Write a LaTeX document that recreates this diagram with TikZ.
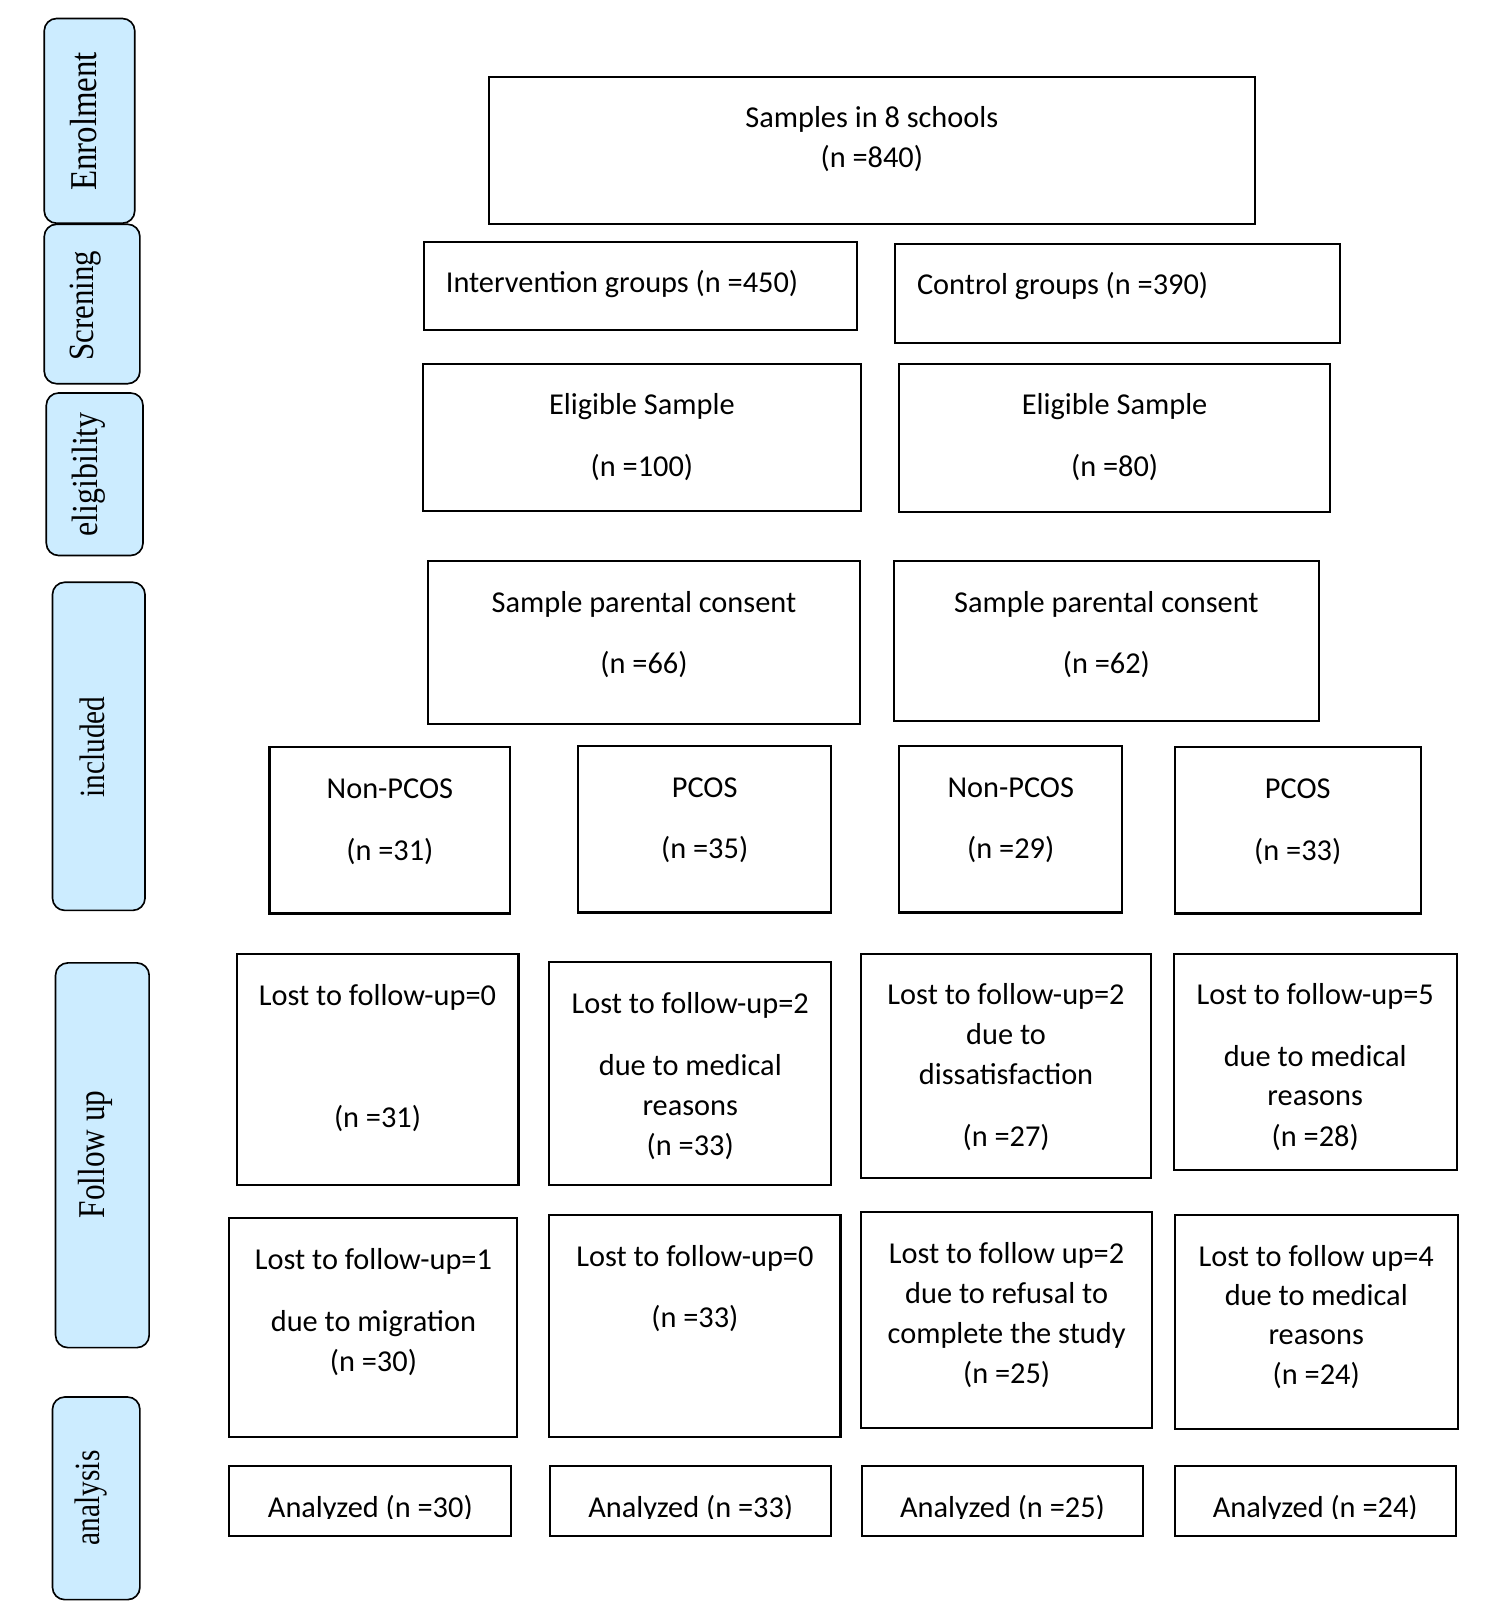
\documentclass[tikz,border=0pt]{standalone}
\usepackage{fontspec}
\setmainfont{Carlito}
\newfontfamily\labserif{Liberation Serif}
\usetikzlibrary{fit}
\definecolor{labblue}{HTML}{CCECFF}
\newcommand\mainf{\fontsize{14.75}{19.5}\selectfont}
\begin{document}
\begin{tikzpicture}[x=0.5pt,y=-0.5pt,
  box/.style={draw=black, line width=1pt, inner sep=0pt},
  labbox/.style={draw=black, line width=0.8pt, fill=labblue, rounded corners=6pt, inner sep=0pt},
  txt/.style={font=\mainf, inner sep=0pt, anchor=base},
  labtxt/.style={font=\labserif\fontsize{15}{18}\selectfont, inner sep=0pt, rotate=90}]
\path[use as bounding box] (0,0) rectangle (1446,1567);
\newcommand\bx[5]{\node[box, fit={(#2,#3) (#4,#5)}] (#1) {};}
\newcommand\lb[5]{\node[labbox, fit={(#2,#3) (#4,#5)}] (#1) {};}
\newcommand\tl[4]{\node[txt] (#1) at (#2.center |- 0,#3) {#4};}
% stage labels
\lb{lenr}{43}{18}{131}{217}
\lb{lscr}{43}{218}{136}{373}
\lb{lelg}{45}{382}{139}{540}
\lb{linc}{51}{566}{141}{885}
\lb{lfol}{54}{936}{145}{1310}
\lb{lana}{51}{1358}{136}{1555}
\node[labtxt, font=\labserif\fontsize{16}{18}\selectfont] (tenr) at (81,118) {\scalebox{1}[1.15]{Enrolment}};
\node[labtxt] (tscr) at (83,297) {\scalebox{1}[1.15]{Screning}};
\node[labtxt, font=\labserif\fontsize{15.5}{18}\selectfont] (telg) at (86,461) {\scalebox{1}[1.15]{eligibility}};
\node[labtxt] (tinc) at (90,726) {\scalebox{0.95}[1.15]{included}};
\node[labtxt, font=\labserif\fontsize{16}{18}\selectfont] (tfol) at (93,1122) {\scalebox{0.95}[1.15]{Follow up}};
\node[labtxt] (tana) at (88,1456) {\scalebox{0.95}[1.15]{analysis}};
% boxes
\bx{b840}{475}{75}{1220}{218}
\bx{bint}{412}{235}{833}{321}
\bx{bctl}{870}{237}{1303}{333}
\bx{bel1}{411}{354}{837}{497}
\bx{bel2}{874}{354}{1293}{498}
\bx{bpc1}{416}{545}{836}{704}
\bx{bpc2}{869}{545}{1282}{701}
\bx{bn1}{262}{726}{496}{888}
\bx{bp1}{562}{725}{808}{887}
\bx{bn2}{874}{725}{1091}{887}
\bx{bp2}{1142}{726}{1381}{888}
\bx{bf1}{230}{927}{504}{1152}
\bx{bf2}{534}{935}{808}{1152}
\bx{bf3}{837}{927}{1119}{1145}
\bx{bf4}{1141}{927}{1416}{1137}
\bx{bg1}{223}{1184}{503}{1397}
\bx{bg2}{534}{1181}{817}{1397}
\bx{bg3}{837}{1178}{1120}{1388}
\bx{bg4}{1142}{1181}{1417}{1389}
\bx{ba1}{223}{1425}{497}{1493}
\bx{ba2}{535}{1425}{808}{1493}
\bx{ba3}{838}{1425}{1111}{1493}
\bx{ba4}{1142}{1425}{1415}{1493}
% texts
\tl{t840a}{b840}{124}{Samples in 8 schools}
\tl{t840b}{b840}{163}{(n =840)}
\node[txt, anchor=base west] (tint) at (433,284) {Intervention groups (n =450)};
\node[txt, anchor=base west] (tctl) at (891,286) {Control groups (n =390)};
\tl{tel1a}{bel1}{403}{Eligible Sample}
\tl{tel1b}{bel1}{463}{(n =100)}
\tl{tel2a}{bel2}{403}{Eligible Sample}
\tl{tel2b}{bel2}{463}{(n =80)}
\tl{tpc1a}{bpc1}{595}{Sample parental consent}
\tl{tpc1b}{bpc1}{655}{(n =66)}
\tl{tpc2a}{bpc2}{595}{Sample parental consent}
\tl{tpc2b}{bpc2}{655}{(n =62)}
\tl{tn1a}{bn1}{776}{Non-PCOS}
\tl{tn1b}{bn1}{836}{(n =31)}
\tl{tp1a}{bp1}{775}{PCOS}
\tl{tp1b}{bp1}{835}{(n =35)}
\tl{tn2a}{bn2}{775}{Non-PCOS}
\tl{tn2b}{bn2}{835}{(n =29)}
\tl{tp2a}{bp2}{776}{PCOS}
\tl{tp2b}{bp2}{836}{(n =33)}
\tl{tf1a}{bf1}{977}{Lost to follow-up=0}
\tl{tf1b}{bf1}{1096}{(n =31)}
\tl{tf2a}{bf2}{985}{Lost to follow-up=2}
\tl{tf2b}{bf2}{1045}{due to medical}
\tl{tf2c}{bf2}{1084}{reasons}
\tl{tf2d}{bf2}{1123}{(n =33)}
\tl{tf3a}{bf3}{976}{Lost to follow-up=2}
\tl{tf3b}{bf3}{1015}{due to}
\tl{tf3c}{bf3}{1054}{dissatisfaction}
\tl{tf3d}{bf3}{1114}{(n =27)}
\tl{tf4a}{bf4}{976}{Lost to follow-up=5}
\tl{tf4b}{bf4}{1037}{due to medical}
\tl{tf4c}{bf4}{1075}{reasons}
\tl{tf4d}{bf4}{1114}{(n =28)}
\tl{tg1a}{bg1}{1234}{Lost to follow-up=1}
\tl{tg1b}{bg1}{1294}{due to migration}
\tl{tg1c}{bg1}{1333}{(n =30)}
\tl{tg2a}{bg2}{1231}{Lost to follow-up=0}
\tl{tg2b}{bg2}{1290}{(n =33)}
\tl{tg3a}{bg3}{1228}{Lost to follow up=2}
\tl{tg3b}{bg3}{1267}{due to refusal to}
\tl{tg3c}{bg3}{1306}{complete the study}
\tl{tg3d}{bg3}{1345}{(n =25)}
\tl{tg4a}{bg4}{1231}{Lost to follow up=4}
\tl{tg4b}{bg4}{1269}{due to medical}
\tl{tg4c}{bg4}{1307}{reasons}
\tl{tg4d}{bg4}{1346}{(n =24)}
\begin{scope}
\clip (200,1430) rectangle (1440,1476);
\tl{ta1}{ba1}{1475}{Analyzed (n =30)}
\tl{ta2}{ba2}{1475}{Analyzed (n =33)}
\tl{ta3}{ba3}{1475}{Analyzed (n =25)}
\tl{ta4}{ba4}{1475}{Analyzed (n =24)}
\end{scope}
\end{tikzpicture}
\end{document}
